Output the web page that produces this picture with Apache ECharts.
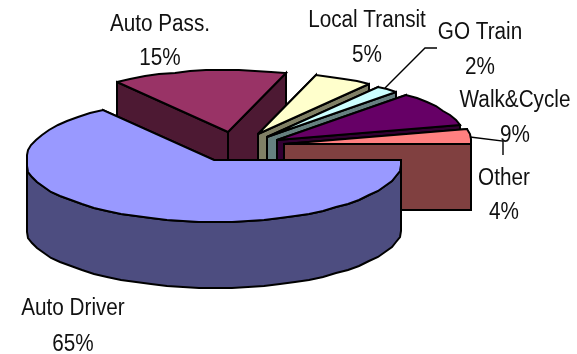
<!DOCTYPE html>
<html>
<head>
<meta charset="utf-8">
<style>html,body{margin:0;padding:0;background:#fff}#c{width:577px;height:354px}</style>
<script src="https://cdn.jsdelivr.net/npm/echarts@6/dist/echarts.min.js"></script>
</head>
<body>
<div id="c"></div>
<script>
// Data
const categories = ['Auto Driver', 'Auto Pass.', 'Local Transit', 'GO Train', 'Walk&Cycle', 'Other'];
const shares = [65, 15, 5, 2, 9, 4];
const topColors = ['#9999FF', '#993366', '#FFFFCC', '#CCFFFF', '#660066', '#FF8080'];
const sideColors = ['#4D4D80', '#4D1933', '#808066', '#668080', '#330033', '#804040'];

// Layout of the tilted pie
const CX = 214, CY = 160, RX = 187, RY = 62, DEPTH = 66;
const explodeX = [0, 14, 44, 53, 63, 70];
const explodeY = [0, -28, -26, -23, -20, -16];
const paintOrder = [6, 1, 2, 3, 4, 5];
const labelX = [73, 160, 367, 480, 515, 504];
const labelY1 = [309, 25, 21, 33, 101, 179];
const labelY2 = [345, 59, 56, 68, 136, 213];
const leaders = [
  null, null, null,
  [[385, 88], [425, 48], [437, 48]],
  [[470, 137], [503, 141], [503, 155]],
  null
];
const total = shares.reduce((a, b) => a + b, 0);
const STROKE = { stroke: '#000', lineWidth: 2, lineJoin: 'miter', miterLimit: 3 };

function arcPoints(ax, ay, a0, a1) {
  const n = Math.max(2, Math.ceil((a1 - a0) / (Math.PI / 36)));
  const pts = [];
  for (let i = 0; i <= n; i++) {
    const a = a0 + (a1 - a0) * i / n;
    const dx = Math.max(-RX, Math.min(RX, RX * 1.01 * Math.cos(a)));
    pts.push([Math.round(ax + dx), Math.round(ay + RY * Math.sin(a))]);
  }
  return pts;
}
function poly(points, fill, z2) {
  return { type: 'polygon', z2, shape: { points }, style: Object.assign({ fill }, STROKE) };
}
function down(p) { return [p[0], p[1] + DEPTH]; }
function quad(a, b, fill, z2) { return poly([a, b, down(b), down(a)], fill, z2); }

function renderSlice(params, api) {
  const i = params.dataIndex;
  let before = 0;
  for (let k = 0; k < i; k++) before += shares[k];
  const a0 = before / total * Math.PI * 2;
  const a1 = (before + api.value(1)) / total * Math.PI * 2;
  const ax = CX + explodeX[i], ay = CY + explodeY[i];
  const apex = [ax, ay];
  const arc = arcPoints(ax, ay, a0, a1);
  const base = paintOrder[i] * 100;
  const children = [];
  let z = base;
  // radial walls
  children.push(quad(apex, arc[0], sideColors[i], z++));
  children.push(quad(apex, arc[arc.length - 1], sideColors[i], z++));
  // outer wall on the front half only
  const front = arc.filter(p => p[1] >= ay - 0.01);
  if (front.length > 1) {
    const wall = front.concat(front.map(down).reverse());
    children.push(poly(wall, sideColors[i], z++));
  }
  // top face
  children.push(poly([apex].concat(arc), topColors[i], z++));
  return { type: 'group', children };
}

function labelEl(text, x, y) {
  return {
    type: 'text', x, y, scaleX: 0.9, z2: 2000,
    style: {
      text, x: 0, y: 0, fill: '#111', align: 'center', verticalAlign: 'middle',
      font: '23px "Liberation Sans", Arial, sans-serif'
    }
  };
}
function renderLabel(params, api) {
  const i = params.dataIndex;
  const children = [
    labelEl(categories[i], labelX[i], labelY1[i]),
    labelEl(api.value(1) + '%', labelX[i], labelY2[i])
  ];
  if (leaders[i]) {
    children.push({
      type: 'polyline', z2: 1500, shape: { points: leaders[i] },
      style: { fill: 'none', stroke: '#000', lineWidth: 1.4 }
    });
  }
  return { type: 'group', children };
}

const seriesData = shares.map((v, i) => [i, v]);
const chart = echarts.init(document.getElementById('c'), null, { renderer: 'canvas' });
chart.setOption({
  animation: false,
  backgroundColor: '#fff',
  tooltip: { show: false },
  series: [
    { type: 'custom', coordinateSystem: 'none', silent: true, renderItem: renderSlice, data: seriesData },
    { type: 'custom', coordinateSystem: 'none', silent: true, renderItem: renderLabel, data: seriesData }
  ]
});
</script>
</body>
</html>
